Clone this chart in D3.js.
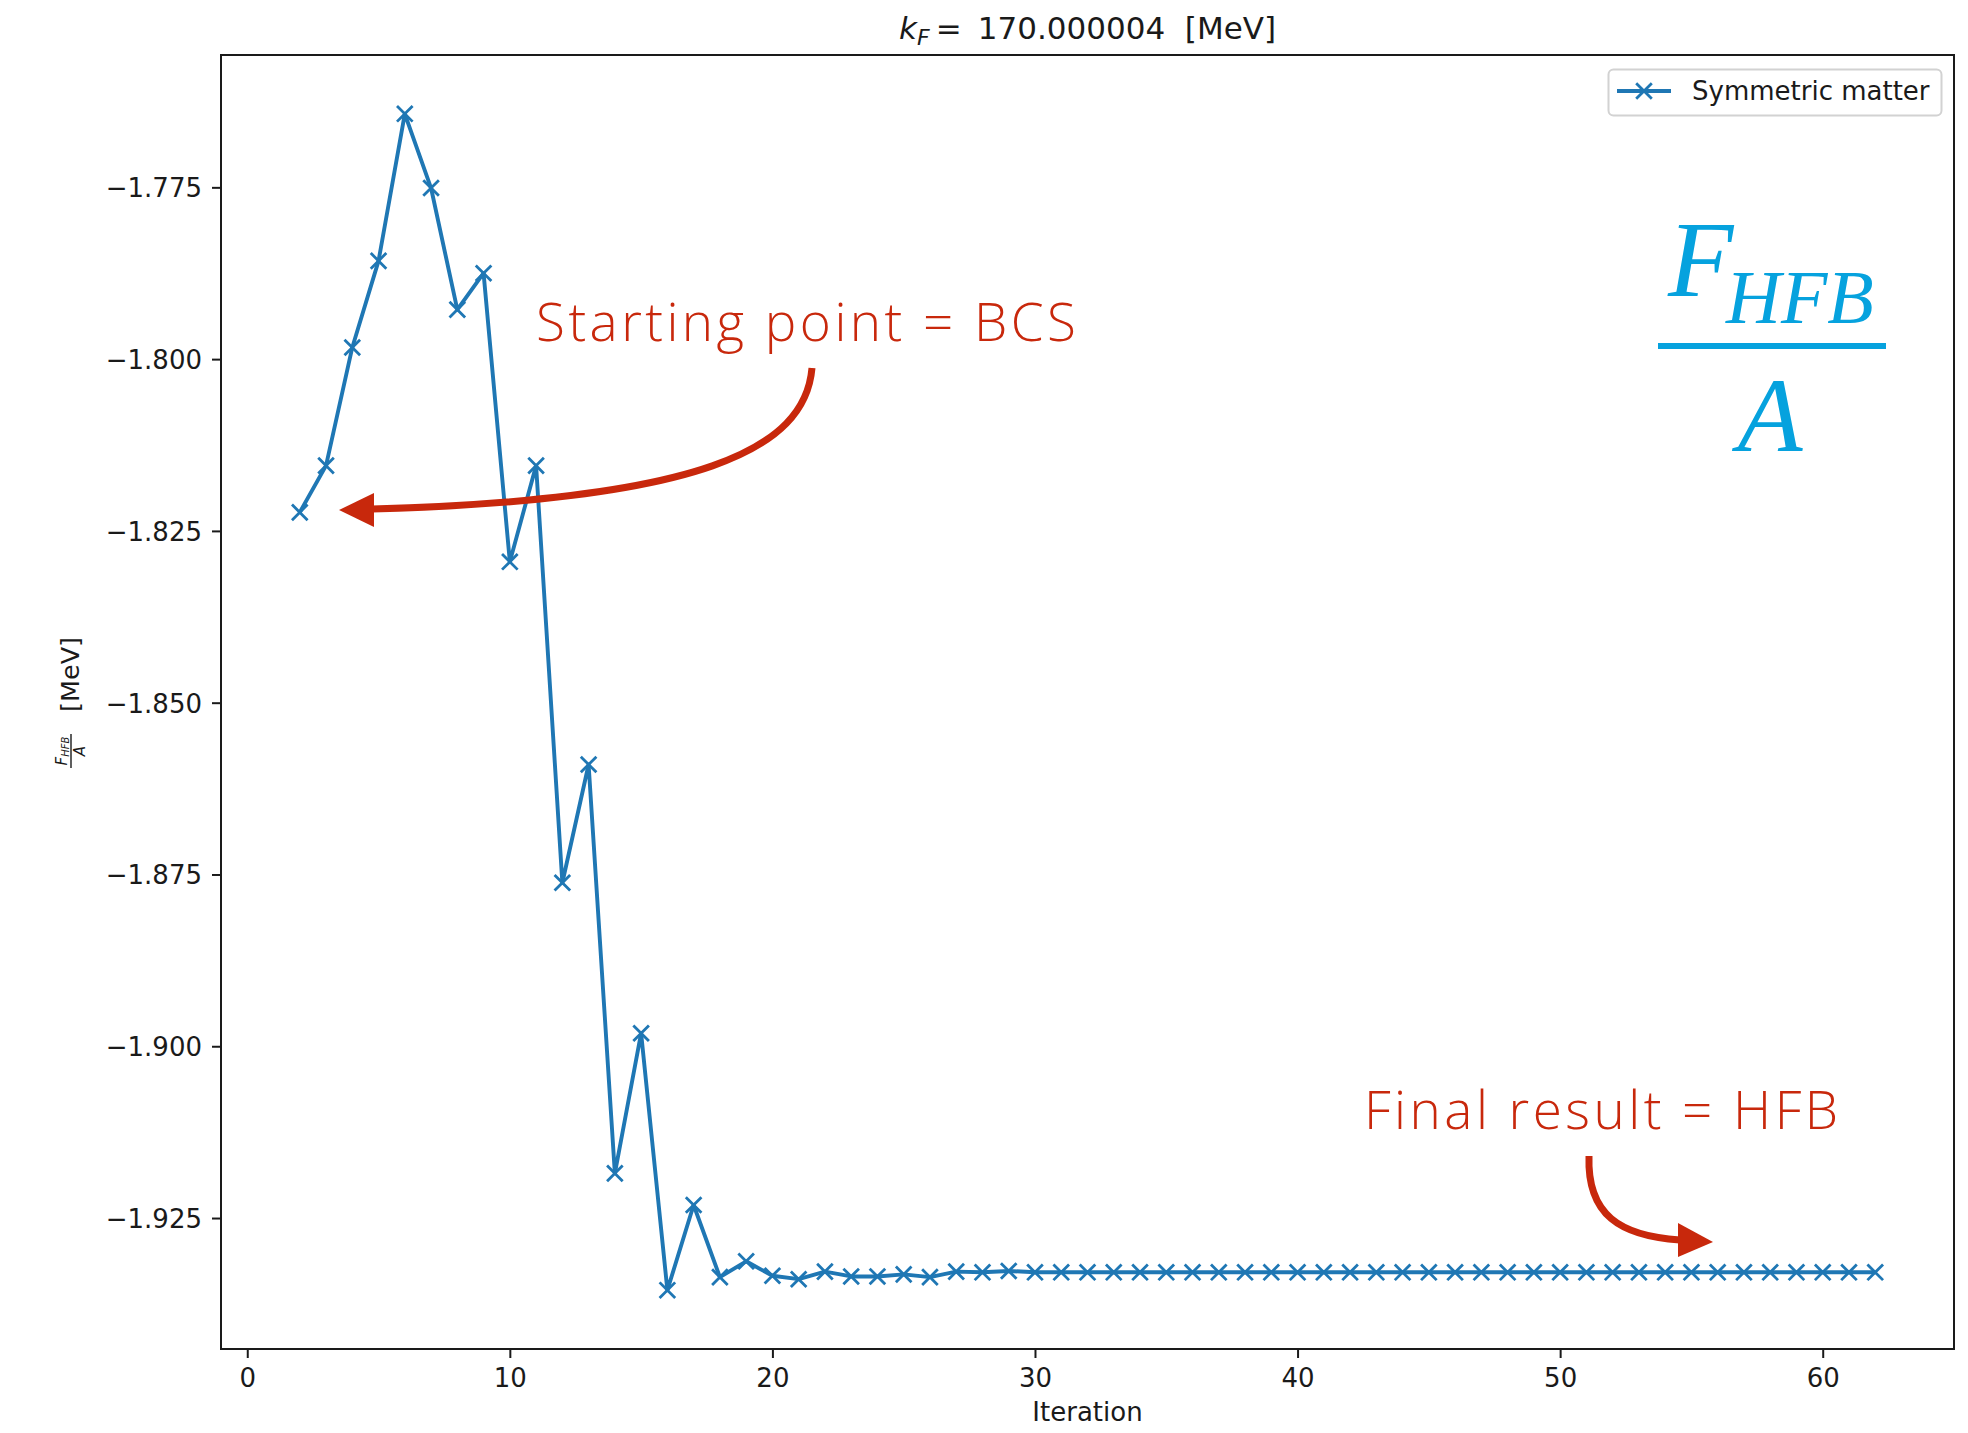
<!DOCTYPE html>
<html>
<head>
<meta charset="utf-8">
<script src="https://cdn.jsdelivr.net/npm/d3@7"></script>
<style>
  body { margin: 0; background: #fff; }
  text { white-space: pre; }
</style>
</head>
<body>
<svg id="chart" width="1968" height="1433"></svg>
<script>
// HFB iterations for symmetric matter at k_F = 170 MeV
const iterations = [
  2, 3, 4, 5, 6, 7, 8, 9, 10, 11, 12, 13, 14, 15, 16, 17, 18, 19, 20, 21,
  22, 23, 24, 25, 26, 27, 28, 29, 30, 31, 32, 33, 34, 35, 36, 37, 38, 39, 40, 41,
  42, 43, 44, 45, 46, 47, 48, 49, 50, 51, 52, 53, 54, 55, 56, 57, 58, 59, 60, 61, 62
];
const energyPerNucleon = [
  -1.8223, -1.8155, -1.7983, -1.7857, -1.7643, -1.7751, -1.7928, -1.7875, -1.8295, -1.8155,
  -1.8762, -1.8590, -1.9185, -1.8981, -1.9355, -1.9231, -1.9336, -1.9313, -1.9334, -1.9339,
  -1.9328, -1.9335, -1.9335, -1.9332, -1.9336, -1.9328, -1.9329, -1.9327, -1.9329, -1.9329,
  -1.9329, -1.9329, -1.9329, -1.9329, -1.9329, -1.9329, -1.9329, -1.9329, -1.9329, -1.9329,
  -1.9329, -1.9329, -1.9329, -1.9329, -1.9329, -1.9329, -1.9329, -1.9329, -1.9329, -1.9329,
  -1.9329, -1.9329, -1.9329, -1.9329, -1.9329, -1.9329, -1.9329, -1.9329, -1.9329, -1.9329,
  -1.9329
];
const xTicks = [0, 10, 20, 30, 40, 50, 60];
const yTicks = [-1.775, -1.800, -1.825, -1.850, -1.875, -1.900, -1.925];
const seriesName = "Symmetric matter";
const titleValue = "170.000004";

const points = iterations.map((it, i) => ({ it, v: energyPerNucleon[i] }));

const svg = d3.select("#chart");
const frame = { left: 221, right: 1954, top: 55, bottom: 1349 };
const blue = "#1f77b4";
const red = "#c8280c";
const cyan = "#06a2de";
const ink = "#1a1a1a";

// axis limits padded by 5% of the data range on each side
const xMin = d3.min(iterations), xMax = d3.max(iterations);
const xPad = (xMax - xMin) * 0.05;
const yMin = d3.min(energyPerNucleon), yMax = d3.max(energyPerNucleon);
const yPad = (yMax - yMin) * 0.05;

const x = d3.scaleLinear().domain([xMin - xPad, xMax + xPad]).range([frame.left, frame.right]);
const y = d3.scaleLinear().domain([yMin - yPad, yMax + yPad]).range([frame.bottom, frame.top]);

// axes
const xAxis = svg.append("g")
  .attr("transform", `translate(0,${frame.bottom})`)
  .call(d3.axisBottom(x).tickValues(xTicks).tickFormat(d3.format("d")).tickSize(9).tickPadding(9));
const yAxis = svg.append("g")
  .attr("transform", `translate(${frame.left},0)`)
  .call(d3.axisLeft(y).tickValues(yTicks).tickFormat(d3.format(".3f")).tickSize(9).tickPadding(10));

[xAxis, yAxis].forEach(g => {
  g.select(".domain").remove();
  g.selectAll(".tick line").attr("stroke", ink).attr("stroke-width", 2);
  g.selectAll(".tick text").attr("fill", ink)
    .attr("font-family", "DejaVu Sans").attr("font-size", 26);
});
yAxis.selectAll(".tick text").attr("dy", "0.36em");
xAxis.selectAll(".tick text").attr("dy", "0.76em");

// plot frame
svg.append("rect")
  .attr("x", frame.left).attr("y", frame.top)
  .attr("width", frame.right - frame.left).attr("height", frame.bottom - frame.top)
  .attr("fill", "none").attr("stroke", ink).attr("stroke-width", 2);

// data line and x markers
const line = d3.line().x(d => x(d.it)).y(d => y(d.v));
svg.append("path")
  .datum(points)
  .attr("d", line)
  .attr("fill", "none").attr("stroke", blue).attr("stroke-width", 3.9)
  .attr("stroke-linejoin", "round");

const ms = 7.8;
const crossPath = `M${-ms},${-ms}L${ms},${ms}M${-ms},${ms}L${ms},${-ms}`;
svg.append("g").selectAll("path")
  .data(points)
  .join("path")
  .attr("transform", d => `translate(${x(d.it)},${y(d.v)})`)
  .attr("d", crossPath)
  .attr("stroke", blue).attr("stroke-width", 2.8).attr("fill", "none");

// title
const title = svg.append("text")
  .attr("x", (frame.left + frame.right) / 2).attr("y", 39)
  .attr("text-anchor", "middle")
  .attr("font-family", "DejaVu Sans").attr("font-size", 31).attr("fill", ink);
title.append("tspan").attr("font-style", "italic").text("k");
title.append("tspan").attr("font-style", "italic").attr("font-size", 22).attr("dy", 6).text("F");
title.append("tspan").attr("dy", -6).text("\u2009= \u2009" + titleValue + "  [MeV]");

// x label
svg.append("text")
  .attr("x", (frame.left + frame.right) / 2).attr("y", 1421)
  .attr("text-anchor", "middle")
  .attr("font-family", "DejaVu Sans").attr("font-size", 26).attr("fill", ink)
  .text("Iteration");

// y label: F_HFB / A  [MeV], rotated
const yl = svg.append("g")
  .attr("transform", `translate(70,${(frame.top + frame.bottom) / 2}) rotate(-90)`)
  .attr("font-family", "DejaVu Sans").attr("fill", ink);
const num = yl.append("text").attr("x", -49).attr("y", -3).attr("text-anchor", "middle")
  .attr("font-size", 15).attr("font-style", "italic");
num.append("tspan").text("F");
num.append("tspan").attr("font-size", 10).attr("dy", 2).text("HFB");
yl.append("line").attr("x1", -66).attr("x2", -32).attr("y1", 1).attr("y2", 1)
  .attr("stroke", ink).attr("stroke-width", 1.4);
yl.append("text").attr("x", -49).attr("y", 15).attr("text-anchor", "middle")
  .attr("font-size", 15).attr("font-style", "italic").text("A");
yl.append("text").attr("x", -10).attr("y", 9)
  .attr("font-size", 25.5).text("[MeV]");

// legend
const lg = svg.append("g");
lg.append("rect").attr("x", 1608.5).attr("y", 69.5).attr("width", 333).attr("height", 46)
  .attr("rx", 5).attr("fill", "#fff").attr("fill-opacity", 0.8)
  .attr("stroke", "#d2d2d2").attr("stroke-width", 2);
lg.append("line").attr("x1", 1617).attr("x2", 1671).attr("y1", 91).attr("y2", 91)
  .attr("stroke", blue).attr("stroke-width", 3.9);
lg.append("path").attr("transform", "translate(1644,91)").attr("d", crossPath)
  .attr("stroke", blue).attr("stroke-width", 2.8).attr("fill", "none");
lg.append("text").attr("x", 1692).attr("y", 99.5)
  .attr("font-family", "DejaVu Sans").attr("font-size", 26).attr("fill", ink)
  .text(seriesName);

// annotations
const note = svg.append("g").attr("font-family", "Open Sans").attr("font-weight", 360).attr("fill", red);
note.append("text").attr("x", 536).attr("y", 341).attr("font-size", 53)
  .attr("textLength", 540).attr("lengthAdjust", "spacing")
  .text("Starting point = BCS");
note.append("text").attr("x", 1364).attr("y", 1129).attr("font-size", 53)
  .attr("textLength", 474).attr("lengthAdjust", "spacing")
  .text("Final result = HFB");

svg.append("path")
  .attr("d", "M812,368 C805,450 700,500 372,509")
  .attr("fill", "none").attr("stroke", red).attr("stroke-width", 7);
svg.append("path")
  .attr("d", "M339,510 L374,493 L374,527 Z").attr("fill", red);

svg.append("path")
  .attr("d", "M1589,1156 C1587,1215 1620,1236 1680,1240")
  .attr("fill", "none").attr("stroke", red).attr("stroke-width", 7);
svg.append("path")
  .attr("d", "M1713,1242 L1678,1223 L1678,1257 Z").attr("fill", red);

// large F_HFB / A symbol
const big = svg.append("g").attr("font-family", "Liberation Serif").attr("font-style", "italic").attr("fill", cyan);
const bigNum = big.append("text").attr("x", 1668).attr("y", 296).attr("font-size", 107);
bigNum.append("tspan").text("F");
bigNum.append("tspan").attr("font-size", 76).attr("x", 1726).attr("y", 323).text("HFB");
big.append("rect").attr("x", 1658).attr("y", 343).attr("width", 228).attr("height", 6);
big.append("text").attr("x", 1770).attr("y", 451).attr("text-anchor", "middle")
  .attr("font-size", 106).text("A");
</script>
</body>
</html>
